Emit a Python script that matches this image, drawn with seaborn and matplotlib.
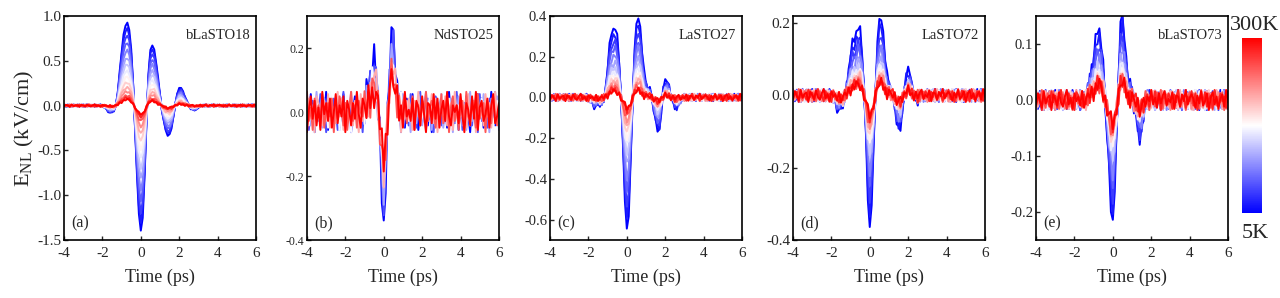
#Data processing
import pandas as pd
import numpy as np

#Visualization
import matplotlib
matplotlib.use('Agg')
import matplotlib.pyplot as plt
import seaborn as sns


#Plot parameters
sns.set_style('ticks')
plt.rcParams['font.family'] = ['Liberation Serif', 'DejaVu Serif']
plt.rcParams['mathtext.default'] = 'regular'
plt.rcParams['axes.unicode_minus'] = False


#Time axis (ps), 0.1 ps steps
t = np.round(np.arange(-4, 6.001, 0.1), 1)
win_start = -2.0   # pulse lists below start here, same 0.1 ps step

#5K waveforms (kV/cm), t = -2.0 ... 3.0
pulse_a = [0.00, -0.02, -0.04, -0.06, -0.08, -0.08, -0.06, 0.00, 0.15, 0.38, 0.60,
           0.78, 0.89, 0.92, 0.85, 0.62, 0.25, -0.25, -0.78, -1.20, -1.40,
           -1.25, -0.78, -0.15, 0.35, 0.62, 0.68, 0.62, 0.48, 0.30, 0.12,
           -0.05, -0.18, -0.28, -0.33, -0.33, -0.25, -0.12, 0.02, 0.13, 0.19,
           0.20, 0.15, 0.10, 0.05, 0.01, -0.03, -0.05, -0.05, -0.04, -0.02]
pulse_b = [0.00, 0.00, 0.00, 0.00, 0.00, 0.00, 0.00, 0.00, 0.00, 0.00, 0.02,
           0.04, 0.07, 0.10, 0.14, 0.17, 0.14, 0.04, -0.10, -0.25, -0.36,
           -0.24, -0.02, 0.14, 0.23, 0.25, 0.16, 0.07, 0.02, 0.00, 0.00,
           0.00, 0.00, 0.00, 0.00, 0.00, 0.00, 0.00, 0.00, 0.00, 0.00,
           0.00, 0.00, 0.00, 0.00, 0.00, 0.00, 0.00, 0.00, 0.00, 0.00]
pulse_c = [-0.01, -0.02, -0.03, -0.04, -0.04, -0.04, -0.04, -0.03, -0.01, 0.05, 0.15,
           0.25, 0.31, 0.33, 0.34, 0.30, 0.18, 0.00, -0.25, -0.50, -0.65,
           -0.58, -0.32, -0.02, 0.22, 0.36, 0.40, 0.34, 0.22, 0.12, 0.07,
           0.05, 0.04, 0.00, -0.06, -0.12, -0.16, -0.16, -0.06, 0.04, 0.08,
           0.08, 0.05, 0.00, -0.02, -0.04, -0.05, -0.04, -0.02, 0.00, 0.00]
pulse_d = [0.00, -0.01, -0.02, -0.03, -0.04, -0.04, -0.03, 0.00, 0.03, 0.07, 0.12,
           0.14, 0.15, 0.17, 0.19, 0.18, 0.12, 0.02, -0.12, -0.28, -0.37,
           -0.30, -0.15, 0.02, 0.14, 0.21, 0.22, 0.17, 0.10, 0.05, 0.03,
           0.02, 0.00, -0.03, -0.07, -0.10, -0.09, -0.04, 0.01, 0.05, 0.07,
           0.06, 0.02, 0.00, -0.01, -0.01, 0.00, 0.00, 0.00, 0.00, 0.00]
pulse_e = [0.00, 0.00, 0.00, 0.00, 0.00, 0.00, 0.00, 0.02, 0.04, 0.06, 0.08,
           0.10, 0.12, 0.12, 0.10, 0.06, 0.00, -0.06, -0.13, -0.19, -0.22,
           -0.16, -0.06, 0.05, 0.13, 0.15, 0.12, 0.07, 0.03, 0.02, 0.01,
           -0.01, -0.03, -0.05, -0.07, -0.06, -0.03, 0.00, 0.00, 0.00, 0.00,
           0.00, 0.00, 0.00, 0.00, 0.00, 0.00, 0.00, 0.00, 0.00, 0.00]

#Temperatures (K) and amplitude relative to 5K
temps = [5, 20, 40, 60, 80, 100, 120, 140, 160, 180, 200, 220, 250, 280, 300]
ratio_a = [1.00, 0.93, 0.85, 0.76, 0.67, 0.58, 0.50, 0.42, 0.35, 0.28, 0.22, 0.17, 0.12, 0.09, 0.07]
ratio_c = [1.00, 0.90, 0.80, 0.70, 0.60, 0.50, 0.42, 0.36, 0.31, 0.26, 0.22, 0.18, 0.14, 0.10, 0.08]
ratio_d = [1.00, 0.88, 0.76, 0.65, 0.56, 0.48, 0.42, 0.37, 0.33, 0.29, 0.26, 0.23, 0.20, 0.17, 0.15]
ratio_e = [1.00, 0.88, 0.77, 0.67, 0.58, 0.50, 0.44, 0.39, 0.34, 0.30, 0.27, 0.25, 0.23, 0.21, 0.20]
temps_b = [5, 50, 100, 150, 200, 250, 300]
ratio_b = [1.00, 0.80, 0.65, 0.55, 0.50, 0.45, 0.40]

#Baseline noise (relative units)
noise1 = [0.3, -0.5, 0.8, -0.2, -0.9, 0.4, 0.1, -0.6, 0.7, -0.3,
          0.9, -0.8, 0.2, 0.5, -0.4, -0.1, 0.6, -0.7, 0.3, 0.8,
          -0.5, -0.2, 0.4, -0.9, 0.1, 0.7, -0.3, 0.5, -0.6, 0.2,
          -0.8, 0.9, -0.1, 0.4, -0.4, 0.6, -0.7, 0.0, 0.8, -0.5,
          0.3, -0.2, 0.7, -0.9, 0.5, 0.1, -0.6, 0.4, -0.3, 0.9,
          -0.1, -0.7, 0.6, 0.2, -0.5, 0.8, -0.4, 0.3, -0.8, 0.1,
          0.5, -0.2, 0.7, -0.6, 0.4, -0.9, 0.2, 0.6, -0.3, -0.1,
          0.8, -0.5, 0.3, -0.7, 0.9, -0.2, 0.1, -0.4, 0.6, -0.8,
          0.5, 0.2, -0.6, 0.7, -0.1, -0.9, 0.4, 0.3, -0.5, 0.8,
          -0.3, 0.6, -0.7, 0.1, 0.5, -0.4, 0.9, -0.2, -0.6, 0.3, 0.0]
noise2 = [-0.4, 0.6, 0.1, -0.8, 0.5, -0.2, 0.9, -0.6, 0.2, 0.4,
          -0.7, 0.3, -0.1, 0.8, -0.5, 0.6, -0.9, 0.2, 0.5, -0.3,
          0.7, -0.6, 0.1, 0.4, -0.8, 0.9, -0.2, -0.5, 0.6, -0.1,
          0.3, -0.7, 0.8, -0.4, 0.2, 0.5, -0.9, 0.6, -0.3, 0.1,
          -0.6, 0.8, -0.2, 0.4, -0.7, 0.3, 0.9, -0.5, 0.1, -0.8,
          0.6, -0.3, 0.2, -0.9, 0.7, 0.4, -0.1, -0.6, 0.5, -0.4,
          0.8, -0.7, 0.3, 0.1, -0.5, 0.9, -0.2, 0.6, -0.8, 0.4,
          -0.3, 0.2, 0.7, -0.6, 0.5, -0.1, -0.9, 0.8, -0.4, 0.3,
          0.1, -0.7, 0.6, -0.2, 0.4, 0.9, -0.5, -0.3, 0.7, -0.8,
          0.2, 0.5, -0.6, 0.3, -0.1, 0.8, -0.4, 0.6, -0.9, 0.1, 0.4]
noise3 = [0.5, 0.1, -0.7, 0.4, -0.3, 0.8, -0.5, -0.1, 0.6, -0.9,
          0.2, 0.7, -0.4, 0.3, -0.8, 0.1, 0.5, -0.6, 0.9, -0.2,
          -0.4, 0.6, -0.1, -0.7, 0.8, -0.3, 0.2, 0.4, -0.9, 0.5,
          0.1, -0.5, 0.7, -0.2, -0.6, 0.3, 0.9, -0.4, 0.2, -0.8,
          0.6, -0.1, 0.3, -0.5, 0.8, -0.7, 0.1, 0.4, -0.2, 0.6,
          -0.9, 0.5, -0.3, 0.7, 0.2, -0.6, 0.4, -0.8, 0.1, 0.9,
          -0.4, 0.3, -0.7, 0.5, 0.0, -0.2, 0.8, -0.5, 0.4, -0.9,
          0.6, 0.2, -0.3, 0.7, -0.8, 0.1, 0.5, -0.6, 0.3, -0.1,
          0.9, -0.4, 0.2, -0.7, 0.6, -0.3, 0.4, 0.8, -0.5, 0.1,
          -0.2, 0.7, -0.8, 0.4, 0.3, -0.6, 0.5, -0.1, 0.9, -0.4, 0.2]
noises = [noise1, noise2, noise3]

samples = ['bLaSTO18', 'NdSTO25', 'LaSTO27', 'LaSTO72', 'bLaSTO73']
letters = ['(a)', '(b)', '(c)', '(d)', '(e)']
pulses = [pulse_a, pulse_b, pulse_c, pulse_d, pulse_e]
ratios = [ratio_a, ratio_b, ratio_c, ratio_d, ratio_e]
temp_sets = [temps, temps_b, temps, temps, temps]
noise_level = [0.015, 0.07, 0.02, 0.02, 0.02]
ylims = [(-1.5, 1.0), (-0.4, 0.3), (-0.7, 0.4), (-0.4, 0.22), (-0.25, 0.15)]
yticks = [[-1.5, -1.0, -0.5, 0.0, 0.5, 1.0], [-0.4, -0.2, 0.0, 0.2],
          [-0.6, -0.4, -0.2, 0.0, 0.2, 0.4], [-0.4, -0.2, 0.0, 0.2],
          [-0.2, -0.1, 0.0, 0.1]]
tick_fs = [11, 8.5, 10.5, 11, 10.5]
lefts = [0.050, 0.2398, 0.4297, 0.6195, 0.8094]


def build_df(pulse, ratio, tset, level):
    i0 = int(round((win_start - t[0]) / 0.1))
    base = np.zeros(len(t))
    base[i0:i0 + len(pulse)] = pulse
    rows = []
    for i, (T, r) in enumerate(zip(tset, ratio)):
        nz = np.roll(np.array(noises[i % 3]), 13 * i)
        rows.append(pd.DataFrame({'t': t, 'E': r * base + level * nz, 'T': T}))
    return pd.concat(rows, ignore_index=True)


fig = plt.figure(figsize=(12.8, 2.98), dpi=100)

for k in range(5):
    ax = fig.add_axes([lefts[k], 0.1946, 0.150, 0.7517])
    df = build_df(pulses[k], ratios[k], temp_sets[k], noise_level[k])
    sns.lineplot(data=df, x='t', y='E', hue='T', palette='bwr', hue_norm=(5, 300),
                 estimator=None, legend=False, lw=1.4, ax=ax)
    ax.set_xlim(-4, 6)
    ax.set_ylim(*ylims[k])
    ax.set_xticks([-4, -2, 0, 2, 4, 6])
    ax.set_yticks(yticks[k])
    ax.set_yticklabels(['%.1f' % v for v in yticks[k]])
    ax.tick_params(axis='y', direction='in', length=3, width=1, labelsize=tick_fs[k], pad=2)
    ax.tick_params(axis='x', direction='in', length=3, width=1, labelsize=11, pad=5)
    for s in ax.spines.values():
        s.set_linewidth(1.2)
        s.set_color('black')
    ax.set_xlabel('Time (ps)', fontsize=13, labelpad=6)
    ax.set_ylabel('')
    ax.text(0.97, 0.94, samples[k], transform=ax.transAxes, ha='right', va='top', fontsize=10.5)
    ax.text(0.04, 0.04, letters[k], transform=ax.transAxes, ha='left', va='bottom', fontsize=11.5)
    if k == 0:
        ax.set_ylabel(r'E$_{NL}$ (kV/cm)', fontsize=16, labelpad=1)

#Temperature colorbar
cax = fig.add_axes([0.9703, 0.2852, 0.0156, 0.587])
sm = plt.cm.ScalarMappable(norm=plt.Normalize(5, 300), cmap='bwr')
cb = fig.colorbar(sm, cax=cax)
cb.set_ticks([])
cb.outline.set_visible(False)
fig.text(0.9805, 0.915, '300K', ha='center', va='center', fontsize=16)
fig.text(0.9805, 0.215, '5K', ha='center', va='center', fontsize=16)

plt.savefig('out.png', dpi=100)
